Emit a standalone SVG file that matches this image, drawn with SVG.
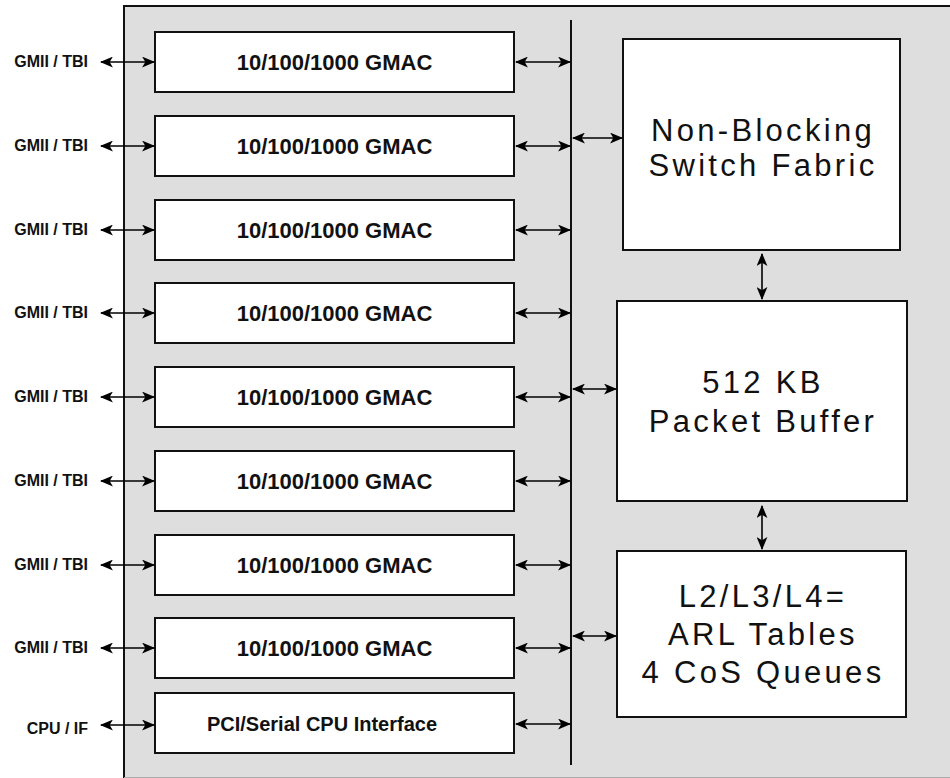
<svg xmlns="http://www.w3.org/2000/svg" width="950" height="778" viewBox="0 0 950 778">
<style>
.mac{fill:#fff;stroke:#111;stroke-width:2}
.blk{fill:#fff;stroke:#111;stroke-width:2}
.t1{font-family:"Liberation Sans",Arial,sans-serif;font-weight:bold;font-size:22px;fill:#111;text-anchor:middle}
.t2{font-family:"Liberation Sans",Arial,sans-serif;font-weight:bold;font-size:20px;fill:#111;text-anchor:middle}
.lab{font-family:"Liberation Sans",Arial,sans-serif;font-weight:bold;font-size:16px;fill:#111;text-anchor:end}
.big{font-family:"Liberation Sans",Arial,sans-serif;font-size:31px;letter-spacing:3.3px;fill:#111;text-anchor:middle}
.ar{stroke:#000;stroke-width:1.6;fill:none;marker-start:url(#a);marker-end:url(#a)}
</style>
<defs>
<marker id="a" viewBox="0 0 12 10" refX="11" refY="5" markerWidth="13" markerHeight="11" markerUnits="userSpaceOnUse" orient="auto-start-reverse">
<path d="M0,0 L12,5 L0,10 L3,5 z" fill="#000"/>
</marker>
</defs>
<rect x="124" y="6" width="900" height="775" fill="#dedede" stroke="#111" stroke-width="2"/>
<line x1="124" y1="777.5" x2="950" y2="777.5" stroke="#aaa" stroke-width="1"/>
<g id="bus"><line x1="571" y1="20" x2="571" y2="765" stroke="#111" stroke-width="2"/></g>
<g id="mac1"><rect class="mac" x="155" y="32" width="359" height="60"/><text class="t1" x="334.5" y="70">10/100/1000 GMAC</text></g>
<g id="mac2"><rect class="mac" x="155" y="116" width="359" height="60"/><text class="t1" x="334.5" y="154">10/100/1000 GMAC</text></g>
<g id="mac3"><rect class="mac" x="155" y="200" width="359" height="60"/><text class="t1" x="334.5" y="238">10/100/1000 GMAC</text></g>
<g id="mac4"><rect class="mac" x="155" y="283" width="359" height="60"/><text class="t1" x="334.5" y="321">10/100/1000 GMAC</text></g>
<g id="mac5"><rect class="mac" x="155" y="367" width="359" height="60"/><text class="t1" x="334.5" y="405">10/100/1000 GMAC</text></g>
<g id="mac6"><rect class="mac" x="155" y="451" width="359" height="60"/><text class="t1" x="334.5" y="489">10/100/1000 GMAC</text></g>
<g id="mac7"><rect class="mac" x="155" y="535" width="359" height="60"/><text class="t1" x="334.5" y="573">10/100/1000 GMAC</text></g>
<g id="mac8"><rect class="mac" x="155" y="618" width="359" height="60"/><text class="t1" x="334.5" y="656">10/100/1000 GMAC</text></g>
<g id="cpu"><rect class="mac" x="155" y="693" width="359" height="60"/><text class="t2" x="322" y="731">PCI/Serial CPU Interface</text></g>
<g id="fabric"><rect class="blk" x="623" y="39" width="277" height="211"/><text class="big" x="763" y="141">Non-Blocking</text><text class="big" x="763" y="176">Switch Fabric</text></g>
<g id="buffer"><rect class="blk" x="617" y="301" width="290" height="200"/><text class="big" x="763" y="393">512 KB</text><text class="big" x="763" y="432">Packet Buffer</text></g>
<g id="arl"><rect class="blk" x="617" y="551" width="289" height="166"/><text class="big" x="763" y="607">L2/L3/L4=</text><text class="big" x="763" y="645">ARL Tables</text><text class="big" x="763" y="683">4 CoS Queues</text></g>
<g id="labels">
<text class="lab" x="88" y="67">GMII / TBI</text>
<text class="lab" x="88" y="151">GMII / TBI</text>
<text class="lab" x="88" y="235">GMII / TBI</text>
<text class="lab" x="88" y="318">GMII / TBI</text>
<text class="lab" x="88" y="402">GMII / TBI</text>
<text class="lab" x="88" y="486">GMII / TBI</text>
<text class="lab" x="88" y="570">GMII / TBI</text>
<text class="lab" x="88" y="653">GMII / TBI</text>
<text class="lab" x="88" y="734">CPU / IF</text>
</g>
<g id="connectors">
<line class="ar" x1="101" y1="62" x2="154" y2="62"/>
<line class="ar" x1="101" y1="146" x2="154" y2="146"/>
<line class="ar" x1="101" y1="230" x2="154" y2="230"/>
<line class="ar" x1="101" y1="313" x2="154" y2="313"/>
<line class="ar" x1="101" y1="397" x2="154" y2="397"/>
<line class="ar" x1="101" y1="481" x2="154" y2="481"/>
<line class="ar" x1="101" y1="565" x2="154" y2="565"/>
<line class="ar" x1="101" y1="648" x2="154" y2="648"/>
<line class="ar" x1="101" y1="725" x2="154" y2="725"/>
<line class="ar" x1="516" y1="62" x2="570" y2="62"/>
<line class="ar" x1="516" y1="146" x2="570" y2="146"/>
<line class="ar" x1="516" y1="230" x2="570" y2="230"/>
<line class="ar" x1="516" y1="313" x2="570" y2="313"/>
<line class="ar" x1="516" y1="397" x2="570" y2="397"/>
<line class="ar" x1="516" y1="481" x2="570" y2="481"/>
<line class="ar" x1="516" y1="565" x2="570" y2="565"/>
<line class="ar" x1="516" y1="648" x2="570" y2="648"/>
<line class="ar" x1="516" y1="724" x2="570" y2="724"/>
<line class="ar" x1="573" y1="138" x2="622" y2="138"/>
<line class="ar" x1="573" y1="389" x2="616" y2="389"/>
<line class="ar" x1="573" y1="636" x2="616" y2="636"/>
<line class="ar" x1="762" y1="254" x2="762" y2="299"/>
<line class="ar" x1="762" y1="506" x2="762" y2="549"/>
</g>
</svg>
